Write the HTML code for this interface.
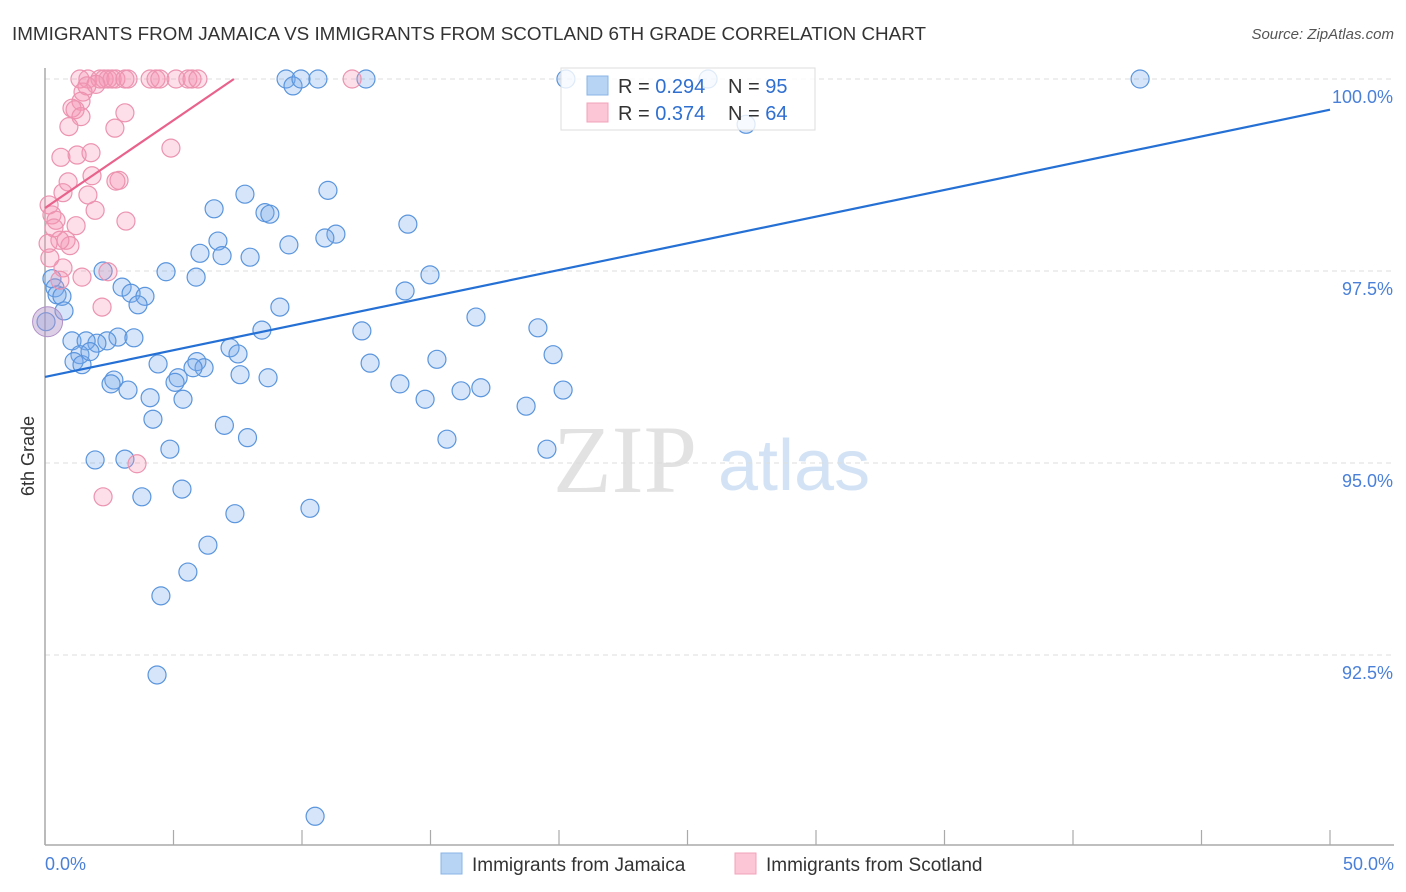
<!DOCTYPE html>
<html><head><meta charset="utf-8"><style>
body{margin:0;background:#fff;}
svg{display:block;font-family:"Liberation Sans",sans-serif;}
</style></head><body>
<svg id="chart" width="1406" height="892" viewBox="0 0 1406 892">
<text x="12" y="40" font-size="18" fill="#333" textLength="914" lengthAdjust="spacingAndGlyphs">IMMIGRANTS FROM JAMAICA VS IMMIGRANTS FROM SCOTLAND 6TH GRADE CORRELATION CHART</text>
<text x="1394" y="39" font-size="15" fill="#555" font-style="italic" text-anchor="end">Source: ZipAtlas.com</text>
<g>
<text x="553" y="492" font-size="96" fill="#e2e2e2" font-family="Liberation Serif,serif">ZIP</text>
<text x="718" y="490" font-size="72" fill="#d3e3f5">atlas</text>
</g>
<g id="grid"></g>
<g id="axes"></g>
<g id="pts"></g>
<g id="trend"></g>
<g>
<rect x="561" y="68" width="254" height="62" fill="#fff" fill-opacity="0.8" stroke="#ddd"/>
<rect x="587" y="76" width="21" height="19" fill="#b8d4f5" stroke="#8ab3e6"/>
<rect x="587" y="103" width="21" height="19" fill="#fcc6d6" stroke="#f0a3bb"/>
<text x="618" y="93" font-size="20" fill="#333">R = <tspan fill="#2f6fd0">0.294</tspan></text>
<text x="728" y="93" font-size="20" fill="#333">N = <tspan fill="#2f6fd0">95</tspan></text>
<text x="618" y="120" font-size="20" fill="#333">R = <tspan fill="#2f6fd0">0.374</tspan></text>
<text x="728" y="120" font-size="20" fill="#333">N = <tspan fill="#2f6fd0">64</tspan></text>
</g>
<text x="34" y="456" font-size="18" fill="#333" transform="rotate(-90 34 456)" text-anchor="middle">6th Grade</text>
<text x="45" y="870" font-size="18" fill="#4a80d8">0.0%</text>
<text x="1394" y="870" font-size="18" fill="#4a80d8" text-anchor="end">50.0%</text>
<g>
<rect x="441" y="853" width="21" height="21" fill="#b8d4f5" stroke="#8ab3e6"/>
<text x="472" y="871" font-size="19" fill="#333">Immigrants from Jamaica</text>
<rect x="735" y="853" width="21" height="21" fill="#fcc6d6" stroke="#f0a3bb"/>
<text x="766" y="871" font-size="19" fill="#333">Immigrants from Scotland</text>
</g>
</svg>
<script>
const yTicks=[100,97.5,95,92.5];
const yTickLabels=["100.0%","97.5%","95.0%","92.5%"];
const xTicks=[0,5,10,15,20,25,30,35,40,45,50];
const jamaicaX=[9.38,9.65,9.96,10.62,12.49,20.27,25.8,42.61,27.28,7.78,6.58,8.56,8.75,11.01,14.12,11.32,10.89,6.73,9.49,6.03,6.89,7.98,4.71,5.88,14.98,2.26,0.27,0.39,0.47,0.66,3.0,3.35,3.89,3.62,0.74,9.14,14.01,16.77,19.18,8.44,2.84,3.46,2.41,2.02,1.05,1.6,1.36,1.13,1.44,1.75,7.2,7.51,12.33,19.77,15.25,4.4,5.91,6.19,5.76,12.65,8.68,7.59,5.18,5.06,2.68,2.57,3.23,13.81,14.79,16.19,16.96,20.16,18.72,4.09,5.37,4.2,6.98,7.88,15.64,19.53,4.86,1.95,3.11,5.33,3.77,10.31,7.39,6.34,5.56,4.51,4.36,10.51,0.04];
const jamaicaY=[100,99.91,100,100,100,100,100,100,99.41,98.5,98.31,98.26,98.24,98.55,98.11,97.98,97.93,97.89,97.84,97.73,97.7,97.68,97.49,97.42,97.45,97.5,97.4,97.28,97.19,97.17,97.29,97.21,97.17,97.06,96.98,97.03,97.24,96.9,96.76,96.73,96.64,96.63,96.59,96.56,96.59,96.59,96.41,96.32,96.28,96.45,96.5,96.42,96.72,96.41,96.35,96.29,96.32,96.24,96.24,96.3,96.11,96.15,96.11,96.05,96.08,96.03,95.95,96.03,95.83,95.94,95.98,95.95,95.74,95.85,95.83,95.57,95.49,95.33,95.31,95.18,95.18,95.04,95.05,94.66,94.56,94.41,94.34,93.93,93.58,93.27,92.24,90.4,96.84];
const scotX=[1.36,1.67,2.14,2.3,2.45,2.61,2.76,3.11,3.23,4.09,4.32,4.47,5.1,5.56,5.72,5.95,11.95,1.63,1.98,1.48,1.4,1.05,1.17,1.4,3.11,2.72,0.93,4.9,0.62,1.25,1.79,2.88,2.76,1.83,0.9,0.7,1.67,1.95,0.16,3.15,0.27,0.43,0.35,1.21,0.82,0.97,0.58,2.45,1.44,0.7,0.58,2.22,3.58,2.26,0.12,0.19];
const scotY=[100,100,100,100,100,100,100,100,100,100,100,100,100,100,100,100,100,99.91,99.93,99.83,99.71,99.62,99.6,99.51,99.56,99.36,99.38,99.1,98.98,99.01,99.04,98.68,98.67,98.74,98.66,98.52,98.49,98.29,98.36,98.15,98.23,98.16,98.06,98.09,97.9,97.83,97.9,97.49,97.42,97.54,97.38,97.03,94.99,94.56,97.86,97.67];
const jamTrendX=[0,50], jamTrendY=[96.12,99.6];
const scotTrendX=[0,7.35], scotTrendY=[98.32,100];

const NS="http://www.w3.org/2000/svg";
const X0=45,X1=1330,Y100=79,PXPER=192/2.5;
const sx=v=>X0+(X1-X0)*v/50;
const sy=v=>Y100+(100-v)*PXPER;
function mk(tag,attrs,parent){const e=document.createElementNS(NS,tag);for(const k in attrs)e.setAttribute(k,attrs[k]);parent.appendChild(e);return e;}
const grid=document.getElementById('grid'),axes=document.getElementById('axes'),pts=document.getElementById('pts'),trend=document.getElementById('trend');
yTicks.forEach((t,i)=>{
  const l=mk('line',{x1:X0,x2:1394,y1:sy(t),y2:sy(t),stroke:'#dcdcdc','stroke-dasharray':'5,4'},grid);
  
  
  const tx=mk('text',{x:1393,y:sy(t)+24,'font-size':18,fill:'#4a80d8','text-anchor':'end'},grid);
  tx.textContent=yTickLabels[i];
  
  
});
const ya=mk('line',{x1:X0,x2:X0,y1:68,y2:845,stroke:'#aaa','stroke-width':1.5},axes);


const xa=mk('line',{x1:X0,x2:1394,y1:845,y2:845,stroke:'#aaa','stroke-width':1.5},axes);


xTicks.forEach(t=>{
  const l=mk('line',{x1:sx(t),x2:sx(t),y1:830,y2:845,stroke:'#aaa','stroke-width':1.2},axes);
  
  
});
function dots(xs,ys,fill,stroke,name){
  xs.forEach((v,i)=>{
    const c=mk('circle',{cx:sx(v),cy:sy(ys[i]),r:9,fill:fill,stroke:stroke,'stroke-width':1.2},pts);
    
    
  });
}
dots(jamaicaX,jamaicaY,'rgba(120,170,235,0.3)','#5a95dd','jamaica-point');
dots(scotX,scotY,'rgba(245,150,180,0.3)','#ec93b0','scotland-point');
const big=mk('circle',{cx:sx(0.1),cy:sy(96.84),r:15,fill:'rgba(180,150,200,0.45)',stroke:'#b090c8'},pts);


const t1=mk('line',{x1:sx(jamTrendX[0]),y1:sy(jamTrendY[0]),x2:sx(jamTrendX[1]),y2:sy(jamTrendY[1]),stroke:'#2570d4','stroke-width':2.2},trend);


const t2=mk('line',{x1:sx(scotTrendX[0]),y1:sy(scotTrendY[0]),x2:sx(scotTrendX[1]),y2:sy(scotTrendY[1]),stroke:'#e8628c','stroke-width':2.2},trend);


</script>
</body></html>
